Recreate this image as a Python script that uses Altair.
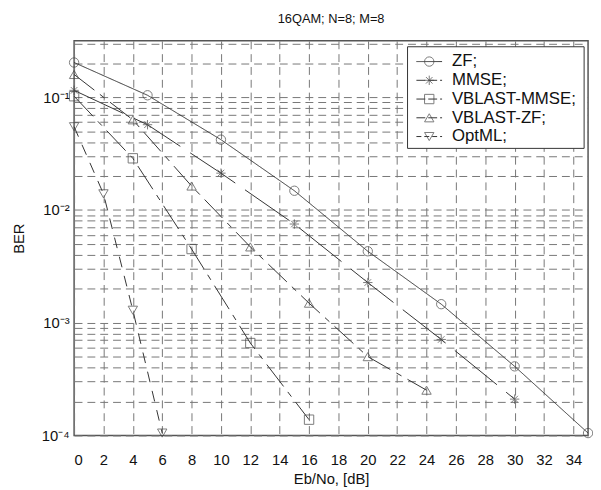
import altair as alt
import pandas as pd

series_names = ["ZF", "MMSE", "VBLAST-MMSE", "VBLAST-ZF", "OptML"]
legend_labels = ["ZF;", "MMSE;", "VBLAST-MMSE;", "VBLAST-ZF;", "OptML;"]

zf_x = [0, 5, 10, 15, 20, 25, 30, 35]
zf_y = [0.203, 0.104, 0.042, 0.0148, 0.0043, 0.00146, 0.00041, 0.000105]

mmse_x = [0, 5, 10, 15, 20, 25, 30]
mmse_y = [0.115, 0.057, 0.0212, 0.0075, 0.00227, 0.00071, 0.00021]

vbm_x = [0, 4, 8, 12, 16]
vbm_y = [0.102, 0.0287, 0.0045, 0.00066, 0.000138]

vbz_x = [0, 4, 8, 12, 16, 20, 24]
vbz_y = [0.159, 0.063, 0.0163, 0.0047, 0.00149, 0.0005, 0.000252]

opt_x = [0, 2, 4, 6]
opt_y = [0.0547, 0.0139, 0.00129, 0.000105]

x_ticks = list(range(0, 35, 2))
decades = [1e-4, 1e-3, 1e-2, 1e-1]
y_grid = [k * d for d in decades for k in range(1, 10) if k * d <= 0.31]

rows = []
for name, xs, ys in [("ZF", zf_x, zf_y), ("MMSE", mmse_x, mmse_y),
                     ("VBLAST-MMSE", vbm_x, vbm_y), ("VBLAST-ZF", vbz_x, vbz_y),
                     ("OptML", opt_x, opt_y)]:
    for xv, yv in zip(xs, ys):
        rows.append({"series": name, "x": xv, "ber": yv})
df = pd.DataFrame(rows)

FONT = "Liberation Sans"
asterisk = "M0,-1L0,1M-1,0L1,0M-0.7,-0.7L0.7,0.7M-0.7,0.7L0.7,-0.7"
shape_scale = alt.Scale(domain=series_names,
                        range=["circle", asterisk, "square", "triangle-up", "triangle-down"])
dash_scale = alt.Scale(domain=series_names,
                       range=[[1, 0], [55, 12], [28, 7, 6, 7], [26, 7, 6, 7], [11, 9]])

label_expr = ("abs(datum.value-0.1)<1e-9 ? '10⁻¹' : abs(datum.value-0.01)<1e-10 ? '10⁻²' : "
              "abs(datum.value-0.001)<1e-11 ? '10⁻³' : abs(datum.value-0.0001)<1e-12 ? '10⁻⁴' : ''")

x_enc = alt.X("x:Q", scale=alt.Scale(domain=[0, 35], nice=False, zero=False),
              axis=alt.Axis(values=x_ticks, title="Eb/No, [dB]", grid=True,
                            titleY=44, titleBaseline="middle"))
y_enc = alt.Y("ber:Q", scale=alt.Scale(type="log", domain=[1e-4, 0.316], nice=False),
              axis=alt.Axis(values=y_grid, labelExpr=label_expr, title="BER", grid=True,
                            titleAngle=270, titleX=-56, titleY=200, titleBaseline="middle",
                            titleAlign="center"))

lines = alt.Chart(df).mark_line(color="#333", strokeWidth=1).encode(
    x=x_enc, y=y_enc,
    strokeDash=alt.StrokeDash("series:N", scale=dash_scale, legend=None),
    detail="series:N",
)
points = alt.Chart(df).mark_point(filled=False, color="#444", strokeWidth=1, size=90).encode(
    x=x_enc, y=y_enc,
    shape=alt.Shape("series:N", scale=shape_scale, legend=None),
)
main = alt.layer(lines, points)

leg_df = pd.DataFrame({"series": series_names, "label": legend_labels})
leg_y = alt.Y("series:N", scale=alt.Scale(type="point", domain=series_names, range=[21, 97], padding=0),
              axis=None)
leg_box = alt.Chart(pd.DataFrame({"a": [0]})).mark_rect(fill="white", stroke="#333", strokeWidth=1).encode(
    x=alt.value(338), x2=alt.value(517), y=alt.value(6), y2=alt.value(109))
leg_lines = alt.Chart(leg_df).mark_rule(color="#333", strokeWidth=1).encode(
    x=alt.value(347), x2=alt.value(373), y=leg_y,
    strokeDash=alt.StrokeDash("series:N", scale=alt.Scale(domain=series_names,
                              range=[[1, 0], [9, 3], [9, 3], [9, 3], [5, 3]]), legend=None))
leg_pts = alt.Chart(leg_df).mark_point(filled=False, color="#444", strokeWidth=1, size=90).encode(
    x=alt.value(360), y=leg_y, shape=alt.Shape("series:N", scale=shape_scale, legend=None))
leg_txt = alt.Chart(leg_df).mark_text(align="left", baseline="middle", font=FONT, fontSize=17,
                                      color="#111").encode(
    x=alt.value(383), y=leg_y, text="label:N")

legend = alt.layer(leg_box, leg_lines, leg_pts, leg_txt)

chart = alt.layer(main, legend).resolve_scale(
    y="independent", strokeDash="independent"
).properties(
    width=521, height=400,
    title=alt.TitleParams("16QAM; N=8; M=8", font=FONT, fontSize=13, fontWeight="normal",
                          color="#111", offset=15),
    autosize=alt.AutoSizeParams(type="none"),
    padding={"left": 67, "top": 30, "right": 5, "bottom": 52},
).configure_view(stroke="#555", strokeWidth=1.5).configure_axis(
    labelFont=FONT, labelFontSize=15, labelColor="#111", titleFont=FONT, titleFontSize=15,
    titleFontWeight="normal", titleColor="#111", ticks=False, tickSize=0, domain=False,
    gridColor="#777", gridDash=[8, 5], gridWidth=1, gridOpacity=1,
).configure_axisX(labelPadding=17).configure_axisY(labelPadding=5)

chart.save("out.html", embed_options={"renderer": "svg", "actions": False})
